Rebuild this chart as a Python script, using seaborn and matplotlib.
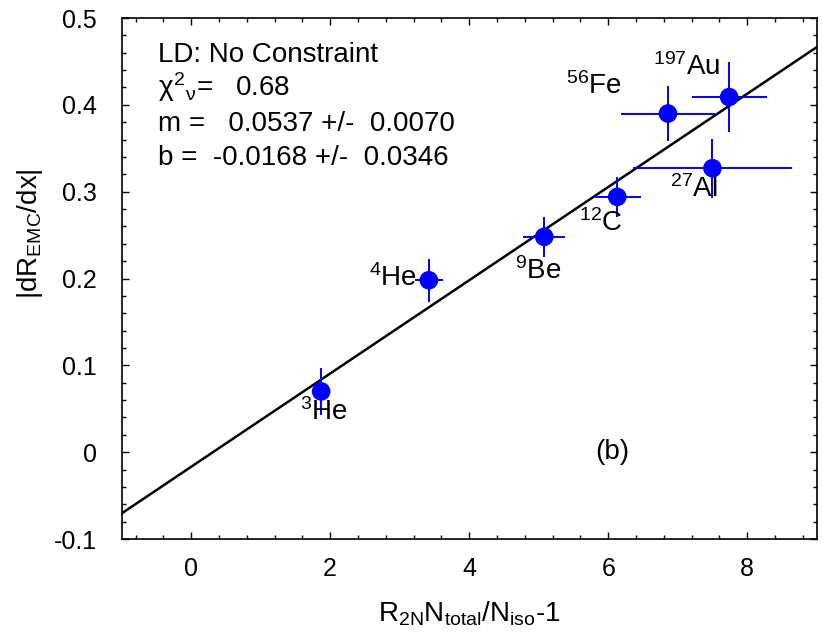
import numpy as np
import pandas as pd
import matplotlib
matplotlib.use("Agg")
import matplotlib.pyplot as plt
import seaborn as sns

# data
nuclei = ["3He", "4He", "9Be", "12C", "56Fe", "197Au", "27Al"]
x_vals = [1.87, 3.42, 5.08, 6.13, 6.86, 7.74, 7.50]
y_vals = [0.070, 0.198, 0.248, 0.294, 0.390, 0.409, 0.327]
x_err = [0.13, 0.20, 0.30, 0.34, 0.67, 0.54, 1.15]
y_err = [0.027, 0.025, 0.023, 0.023, 0.032, 0.040, 0.034]

# label text and where it sits
label_text = [r"$^{3}$He", r"$^{4}$He", r"$^{9}$Be", r"$^{12}$C",
              r"$^{56}$Fe", r"$^{197}$Au", r"$^{27}$Al"]
label_x = [1.91, 2.90, 5.00, 5.89, 5.79, 7.13, 7.23]
label_y = [0.046, 0.201, 0.209, 0.264, 0.422, 0.444, 0.303]

# fit results
fit_m = 0.0537
fit_b = -0.0168
fit_lines = ["LD: No Constraint",
             r"$\chi^{2}{}_{\nu}$=   0.68",
             "m =   0.0537 +/-  0.0070",
             "b =  -0.0168 +/-  0.0346"]

df = pd.DataFrame({"nucleus": nuclei, "x": x_vals, "y": y_vals,
                   "xerr": x_err, "yerr": y_err})
fit_x = np.array([-1.0, 9.0])
fit_df = pd.DataFrame({"x": fit_x, "y": fit_m * fit_x + fit_b})

sns.set_theme(style="ticks")
plt.rcParams["font.family"] = ["Liberation Sans", "DejaVu Sans"]
plt.rcParams["mathtext.fontset"] = "custom"
plt.rcParams["mathtext.rm"] = "Liberation Sans"
plt.rcParams["mathtext.it"] = "Liberation Sans"
plt.rcParams["mathtext.bf"] = "Liberation Sans:bold"
plt.rcParams["text.color"] = "black"
plt.rcParams["axes.labelcolor"] = "black"
plt.rcParams["xtick.color"] = "black"
plt.rcParams["ytick.color"] = "black"

fig = plt.figure(figsize=(8.22, 6.37), dpi=100)
ax = fig.add_axes([0.148, 0.1538, 0.8456, 0.8179])

sns.lineplot(data=fit_df, x="x", y="y", color="black", linewidth=1.8, ax=ax)
ax.errorbar(df["x"], df["y"], xerr=df["xerr"], yerr=df["yerr"], fmt="none",
            ecolor="#0000ff", elinewidth=1.4, capsize=0, zorder=3)
sns.scatterplot(data=df, x="x", y="y", color="#0000ff", s=180,
                edgecolor="none", zorder=4, ax=ax)

for t, lx, ly in zip(label_text, label_x, label_y):
    ax.text(lx, ly, t, fontsize=20, ha="center", va="center")

for i, line in enumerate(fit_lines):
    ax.text(-0.476, 0.4497 - i * 0.0397, line, fontsize=20,
            ha="left", va="baseline")

ax.text(6.06, 0.0, "(b)", fontsize=20, ha="center", va="center")

ax.set_xlim(-1, 9)
ax.set_ylim(-0.1, 0.5)
ax.set_xticks([0, 2, 4, 6, 8])
ax.set_yticks([-0.1, 0, 0.1, 0.2, 0.3, 0.4, 0.5])
ax.set_yticklabels(["-0.1", "0", "0.1", "0.2", "0.3", "0.4", "0.5"])
ax.set_xticks(np.arange(-0.8, 9.0, 0.4), minor=True)
ax.set_yticks(np.arange(-0.1, 0.5, 0.02), minor=True)
ax.tick_params(which="both", direction="in", top=True, right=True,
               labelsize=18, width=1)
ax.tick_params(axis="y", which="major", length=5, pad=18)
ax.tick_params(axis="x", which="major", length=5, pad=13)
ax.tick_params(which="minor", length=3)
for sp in ax.spines.values():
    sp.set_linewidth(1.2)
    sp.set_color("black")

ax.set_xlabel(r"R$_{2\mathrm{N}}$N$_{\mathrm{total}}$/N$_{\mathrm{iso}}$-1",
              fontsize=20)
ax.set_ylabel(r"|dR$_{\mathrm{EMC}}$/dx|", fontsize=20)
ax.xaxis.set_label_coords(0.5, -0.117)
ax.yaxis.set_label_coords(-0.11, 0.587)

fig.savefig("out.png", dpi=100)
